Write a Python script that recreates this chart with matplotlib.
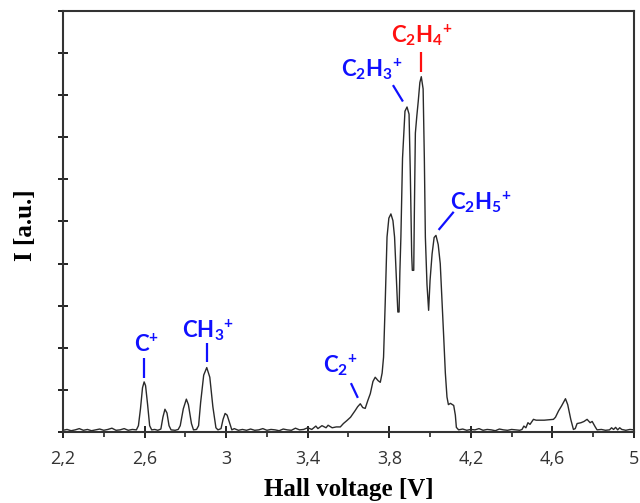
import matplotlib
matplotlib.use("Agg")
import matplotlib.pyplot as plt
from matplotlib.ticker import FixedFormatter, FixedLocator, MultipleLocator

# spectrum (Hall voltage in V, intensity in tick units)
VOLTAGE = [
    2.20, 2.22, 2.24, 2.26, 2.28, 2.30, 2.32, 2.34, 2.36, 2.38, 2.40, 2.42, 2.44, 2.46,
    2.48, 2.50, 2.52, 2.54, 2.56,
    2.570, 2.580, 2.590, 2.598, 2.605, 2.615, 2.625, 2.635, 2.650, 2.665,
    2.680, 2.690, 2.700, 2.710, 2.720, 2.730, 2.750, 2.765,
    2.775, 2.790, 2.805, 2.815, 2.830, 2.840, 2.855,
    2.865, 2.875, 2.890, 2.905, 2.920, 2.935, 2.950, 2.960,
    2.975, 2.985, 2.995, 3.005, 3.015, 3.028,
    3.04, 3.06, 3.08, 3.10, 3.12, 3.14, 3.16, 3.18, 3.20, 3.22, 3.24, 3.26, 3.28, 3.30,
    3.32, 3.34, 3.36, 3.38, 3.40, 3.42, 3.44, 3.45, 3.47, 3.49, 3.50, 3.52, 3.54, 3.56,
    3.575, 3.592, 3.610, 3.633, 3.645, 3.658, 3.670, 3.682, 3.695, 3.707, 3.720, 3.731,
    3.745, 3.756, 3.765, 3.772, 3.780, 3.789, 3.798, 3.808, 3.818, 3.826, 3.835, 3.842,
    3.848, 3.852, 3.857, 3.865, 3.877, 3.887, 3.897, 3.903, 3.910, 3.913, 3.920, 3.923,
    3.928, 3.935, 3.942, 3.950, 3.957, 3.966, 3.972, 3.977, 3.985, 3.993, 4.000, 4.010,
    4.020, 4.029, 4.040, 4.050, 4.060, 4.067, 4.075, 4.083, 4.090, 4.100, 4.116, 4.124,
    4.129, 4.14, 4.16, 4.18, 4.20, 4.22, 4.24, 4.26, 4.28, 4.30, 4.32, 4.34, 4.36, 4.38,
    4.40, 4.42, 4.44, 4.451, 4.460, 4.470, 4.480, 4.490, 4.507, 4.520, 4.560, 4.605,
    4.615, 4.630, 4.645, 4.664, 4.675, 4.690, 4.703, 4.712, 4.721, 4.740, 4.755, 4.770,
    4.785, 4.795, 4.810, 4.819, 4.84, 4.86, 4.88, 4.89, 4.90, 4.91, 4.92, 4.93, 4.94,
    4.96, 4.98, 5.00,
]
INTENSITY = [
    0.04, 0.06, 0.03, 0.05, 0.08, 0.04, 0.06, 0.03, 0.05, 0.07, 0.04, 0.06, 0.09, 0.04,
    0.05, 0.08, 0.04, 0.06, 0.05,
    0.15, 0.55, 1.05, 1.19, 1.10, 0.65, 0.15, 0.05, 0.06, 0.04,
    0.07, 0.35, 0.54, 0.45, 0.15, 0.05, 0.04, 0.06,
    0.15, 0.55, 0.78, 0.65, 0.20, 0.05, 0.06,
    0.15, 0.70, 1.35, 1.53, 1.30, 0.60, 0.10, 0.05,
    0.08, 0.30, 0.44, 0.40, 0.25, 0.05,
    0.08, 0.04, 0.06, 0.04, 0.07, 0.04, 0.05, 0.08, 0.04, 0.06, 0.05, 0.03, 0.07, 0.05,
    0.04, 0.09, 0.05, 0.06, 0.10, 0.06, 0.14, 0.08, 0.15, 0.10, 0.16, 0.10, 0.12, 0.12,
    0.20, 0.27, 0.35, 0.51, 0.60, 0.67, 0.58, 0.56, 0.75, 0.91, 1.20, 1.30,
    1.22, 1.18, 1.40, 1.78, 3.05, 4.63, 5.08, 5.18, 5.02, 4.63, 3.60, 2.85,
    2.85, 3.80, 4.63, 6.50, 7.62, 7.72, 7.55, 6.20, 4.20, 3.84, 3.84, 5.20,
    7.10, 7.50, 7.85, 8.30, 8.44, 8.15, 6.50, 4.63, 3.50, 2.89, 3.60, 4.23,
    4.62, 4.67, 4.45, 4.00, 3.00, 2.25, 1.40, 0.83, 0.65, 0.68, 0.63, 0.40,
    0.11, 0.05, 0.07, 0.04, 0.06, 0.05, 0.08, 0.04, 0.06, 0.05, 0.03, 0.07, 0.05, 0.04,
    0.06, 0.05, 0.04, 0.06, 0.14, 0.10, 0.22, 0.18, 0.30, 0.28, 0.28, 0.30,
    0.35, 0.50, 0.62, 0.79, 0.65, 0.30, 0.06, 0.08, 0.20, 0.22, 0.25, 0.30,
    0.22, 0.25, 0.12, 0.05, 0.06, 0.04, 0.05, 0.10, 0.06, 0.11, 0.05, 0.10, 0.06,
    0.04, 0.06, 0.05,
]

XTICKS = [2.2, 2.6, 3.0, 3.4, 3.8, 4.2, 4.6, 5.0]
XTICK_LABELS = ["2,2", "2,6", "3", "3,4", "3,8", "4,2", "4,6", "5"]

# ion label, text centre x, text baseline y, leader (x0, y0, x1, y1), colour
PEAK_LABELS = [
    (r"$\mathrm{C}^{+}$", 2.612, 1.90, (2.596, 1.76, 2.596, 1.28), "#1010ff"),
    (r"$\mathrm{CH_3}{}^{+}$", 2.912, 2.25, (2.908, 2.12, 2.908, 1.66), "#1010ff"),
    (r"$\mathrm{C_2}{}^{+}$", 3.559, 1.42, (3.612, 1.16, 3.646, 0.81), "#1010ff"),
    (r"$\mathrm{C_2H_3}{}^{+}$", 3.717, 8.45, (3.818, 8.24, 3.867, 7.85), "#1010ff"),
    (r"$\mathrm{C_2H_4}{}^{+}$", 3.960, 9.26, (3.955, 9.03, 3.955, 8.55), "#ff1010"),
    (r"$\mathrm{C_2H_5}{}^{+}$", 4.252, 5.29, (4.116, 5.23, 4.042, 4.80), "#1010ff"),
]

plt.rcParams["mathtext.fontset"] = "custom"
plt.rcParams["mathtext.rm"] = "Lato:bold"
plt.rcParams["mathtext.it"] = "Lato:bold"
plt.rcParams["mathtext.bf"] = "Lato:bold"

fig = plt.figure(figsize=(6.4, 5.03), dpi=100)
ax = fig.add_axes([0.0984, 0.1412, 0.8922, 0.8369])

ax.plot(VOLTAGE, INTENSITY, color="#2a2a2a", linewidth=1.0)

for text, tx, ty, (x0, y0, x1, y1), color in PEAK_LABELS:
    ax.text(tx, ty, text, ha="center", va="baseline", fontsize=16, color=color)
    ax.plot([x0, x1], [y0, y1], color=color, linewidth=1.6, solid_capstyle="butt")

ax.set_xlim(2.2, 5.0)
ax.set_ylim(0, 10)
ax.xaxis.set_major_locator(FixedLocator(XTICKS))
ax.xaxis.set_major_formatter(FixedFormatter(XTICK_LABELS))
ax.xaxis.set_minor_locator(MultipleLocator(0.2))
ax.yaxis.set_major_locator(MultipleLocator(1))
ax.set_yticklabels([])

ax.tick_params(axis="x", which="major", direction="inout", length=8, width=1.4,
               color="#222222", labelsize=13, labelcolor="#333333", pad=9)
ax.tick_params(axis="x", which="minor", direction="out", length=3.5, width=1.2, color="#222222")
ax.tick_params(axis="y", which="major", direction="inout", length=7, width=1.4, color="#222222")
for label in ax.get_xticklabels():
    label.set_fontfamily("Open Sans")

for spine in ax.spines.values():
    spine.set_linewidth(1.5)
    spine.set_color("#333333")

ax.set_xlabel("Hall voltage [V]", fontsize=18, fontweight="bold", family="Liberation Serif")
ax.set_ylabel("I [a.u.]", fontsize=18, fontweight="bold", family="Liberation Serif")
ax.xaxis.set_label_coords(0.5, -0.11)
ax.yaxis.set_label_coords(-0.046, 0.492)

fig.savefig("out.png", dpi=100, facecolor="white")
